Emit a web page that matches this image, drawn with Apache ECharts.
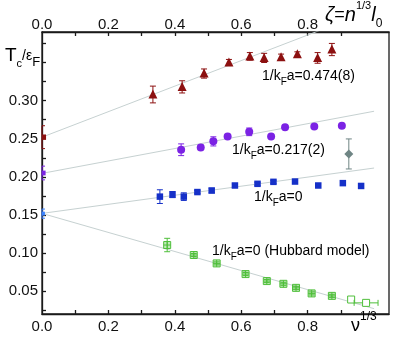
<!DOCTYPE html>
<html>
<head>
<meta charset="utf-8">
<script src="https://cdn.jsdelivr.net/npm/echarts@6/dist/echarts.min.js"></script>
<style>
  html, body { margin: 0; padding: 0; background: #fff; }
  #chart { width: 394px; height: 339px; }
</style>
</head>
<body>
<div id="chart"></div>
<script>
const FONT = "Liberation Sans, Arial, sans-serif";

// 1/kFa = 0.474(8)
const redX = [0, 0.334, 0.422, 0.488, 0.563, 0.626, 0.669, 0.720, 0.769, 0.830, 0.873];
const redY = [0.252, 0.308, 0.318, 0.3355, 0.350, 0.358, 0.356, 0.357, 0.361, 0.356, 0.367];
const redErr = [0.015, 0.011, 0.008, 0.006, 0.004, 0.005, 0.006, 0.004, 0.003, 0.007, 0.008];

// 1/kFa = 0.217(2)
const purpleX = [0, 0.419, 0.478, 0.516, 0.559, 0.624, 0.690, 0.732, 0.820, 0.903];
const purpleY = [0.205, 0.2355, 0.2386, 0.2465, 0.253, 0.259, 0.253, 0.265, 0.266, 0.267];
const purpleErr = [0.009, 0.0077, 0.003, 0.006, 0.002, 0.005, 0.002, 0.002, 0.002, 0.002];

// grey diamond
const greyX = [0.924];
const greyY = [0.230];
const greyErr = [0.0197];

// 1/kFa = 0
const blue0X = [0];
const blue0Y = [0.1517];
const blue0Err = [0.006];
const blueX = [0.355, 0.393, 0.427, 0.468, 0.511, 0.581, 0.649, 0.697, 0.762, 0.832, 0.906, 0.961];
const blueY = [0.174, 0.1767, 0.174, 0.180, 0.182, 0.1886, 0.1908, 0.1934, 0.1938, 0.1886, 0.1917, 0.188];
const blueErr = [0.009, 0.004, 0.005, 0.002, 0.003, 0.002, 0.002, 0.002, 0.002, 0, 0, 0];

// 1/kFa = 0 (Hubbard model)
const greenX = [0.377, 0.457, 0.526, 0.613, 0.677, 0.727, 0.765, 0.812, 0.873];
const greenY = [0.1105, 0.0974, 0.0864, 0.0724, 0.0632, 0.0596, 0.0543, 0.047, 0.0438];
const greenErr = [0.0088, 0.002, 0.002, 0.002, 0.002, 0.002, 0.002, 0.002, 0.002];
const greenOpenX = [0.931, 0.976];
const greenOpenY = [0.039, 0.0346];
const greenOpenXErr = [0, 0.036];

// linear fits
const fitX = [0, 1.0];
const redFit = [0.252, 0.4195];
const purpleFit = [0.2045, 0.286];
const blueFit = [0.152, 0.2115];
const greenFit = [0.152, 0.027];

// ticks
const xLabels = [0, 0.2, 0.4, 0.6, 0.8];
const xTicks = [0.1, 0.2, 0.3, 0.4, 0.5, 0.6, 0.7, 0.8, 0.9];
const yLabels = [0.05, 0.10, 0.15, 0.20, 0.25, 0.30];
const yTicks = [0.025, 0.05, 0.075, 0.10, 0.125, 0.15, 0.175, 0.20, 0.225, 0.25, 0.275, 0.30, 0.325, 0.35, 0.375];

function marker(shape, c, s, color, onAxis) {
  const [cx, cy] = c;
  const h = s / 2;
  // points sitting on the y axis are cut by the frame: keep only a sliver
  if (onAxis) {
    return { type: "rect", shape: { x: cx, y: cy - h * 0.6, width: h * 0.9, height: h * 1.2 }, style: { fill: color } };
  }
  if (shape === "triangle") {
    return { type: "polygon", shape: { points: [[cx, cy - h * 1.1], [cx - h, cy + h * 0.9], [cx + h, cy + h * 0.9]] }, style: { fill: color } };
  }
  if (shape === "circle") {
    return { type: "circle", shape: { cx, cy, r: h }, style: { fill: color } };
  }
  if (shape === "diamond") {
    return { type: "polygon", shape: { points: [[cx, cy - h], [cx + h, cy], [cx, cy + h], [cx - h, cy]] }, style: { fill: color } };
  }
  if (shape === "boxcross") {
    return {
      type: "group",
      children: [
        { type: "rect", shape: { x: cx - h, y: cy - h, width: s, height: s }, style: { fill: "rgba(80,190,60,0.35)", stroke: color, lineWidth: 1 } },
        { type: "line", shape: { x1: cx, y1: cy - h, x2: cx, y2: cy + h }, style: { stroke: color, lineWidth: 1 } },
        { type: "line", shape: { x1: cx - h, y1: cy, x2: cx + h, y2: cy }, style: { stroke: color, lineWidth: 1 } },
      ],
    };
  }
  if (shape === "open") {
    return { type: "rect", shape: { x: cx - h, y: cy - h, width: s, height: s }, style: { fill: "#fff", stroke: color, lineWidth: 1 } };
  }
  return { type: "rect", shape: { x: cx - h, y: cy - h, width: s, height: s }, style: { fill: color } };
}

// points with error bars
function pointSeries(xs, ys, errs, color, shape, size, xErrs) {
  return {
    type: "custom",
    z: 5,
    dimensions: ["x", "y", "err", "xerr"],
    encode: { x: 0, y: 1 },
    data: xs.map((x, i) => [x, ys[i], errs ? errs[i] : 0, xErrs ? xErrs[i] : 0]),
    renderItem: (params, api) => {
      const x = api.value(0), y = api.value(1), e = api.value(2), ex = api.value(3);
      const c = api.coord([x, y]);
      const onAxis = x <= 0;
      const capL = onAxis ? 0 : 3;
      const ls = { stroke: color, lineWidth: 1 };
      const kids = [];
      if (e > 0) {
        const t = api.coord([x, y + e]);
        const b = api.coord([x, y - e]);
        kids.push({ type: "line", shape: { x1: t[0], y1: t[1], x2: b[0], y2: b[1] }, style: ls });
        kids.push({ type: "line", shape: { x1: t[0] - capL, y1: t[1], x2: t[0] + 3, y2: t[1] }, style: ls });
        kids.push({ type: "line", shape: { x1: b[0] - capL, y1: b[1], x2: b[0] + 3, y2: b[1] }, style: ls });
      }
      if (ex > 0) {
        const l = api.coord([x - ex, y]);
        const r = api.coord([x + ex, y]);
        kids.push({ type: "line", shape: { x1: l[0], y1: l[1], x2: r[0], y2: r[1] }, style: ls });
        kids.push({ type: "line", shape: { x1: l[0], y1: l[1] - 3, x2: l[0], y2: l[1] + 3 }, style: ls });
        kids.push({ type: "line", shape: { x1: r[0], y1: r[1] - 3, x2: r[0], y2: r[1] + 3 }, style: ls });
      }
      kids.push(marker(shape, c, size, color, onAxis));
      return { type: "group", children: kids };
    },
  };
}

function fitSeries(ys) {
  return {
    type: "line",
    silent: true,
    symbol: "none",
    clip: true,
    z: 2,
    data: fitX.map((x, i) => [x, ys[i]]),
    lineStyle: { color: "#c6d1d1", width: 1 },
  };
}

const axisLineStyle = { color: "#1a1a1a", width: 1.3 };

function xAxisCfg(position, margin) {
  return {
    type: "value",
    position,
    min: 0,
    max: 1.045,
    axisLine: { show: true, lineStyle: axisLineStyle },
    axisTick: { show: true, inside: true, length: 4, customValues: xTicks, lineStyle: axisLineStyle },
    axisLabel: { customValues: xLabels, formatter: (v) => v.toFixed(1), fontSize: 15, fontFamily: FONT, color: "#111", margin },
    splitLine: { show: false },
  };
}

const annRich = {
  m: { fontSize: 14, fontFamily: FONT, color: "#111", lineHeight: 22 },
  s: { fontSize: 10, fontFamily: FONT, color: "#111", lineHeight: 11, verticalAlign: "bottom" },
};

function annotation(x, y, text) {
  return { type: "text", x, y, style: { text, rich: annRich, verticalAlign: "middle" }, z: 10 };
}

const chart = echarts.init(document.getElementById("chart"), null, { renderer: "canvas" });

chart.setOption({
  animation: false,
  backgroundColor: "#fff",
  grid: {
    left: 42, right: 5, top: 32, bottom: 25,
    containLabel: false,
    outerBoundsMode: "none",
    show: true,
    borderColor: "#1a1a1a",
    borderWidth: 1.3,
  },
  xAxis: [xAxisCfg("bottom", 5), xAxisCfg("top", 0)],
  yAxis: {
    type: "value",
    min: 0.02,
    max: 0.39,
    axisLine: { show: true, lineStyle: axisLineStyle },
    axisTick: { show: true, inside: true, length: 4, customValues: yTicks, lineStyle: axisLineStyle },
    axisLabel: { customValues: yLabels, formatter: (v) => v.toFixed(2), fontSize: 15, fontFamily: FONT, color: "#111", margin: 4 },
    splitLine: { show: false },
  },
  series: [
    fitSeries(redFit),
    fitSeries(purpleFit),
    fitSeries(blueFit),
    fitSeries(greenFit),
    pointSeries(redX, redY, redErr, "#8c1010", "triangle", 9),
    pointSeries(purpleX, purpleY, purpleErr, "#7b22e4", "circle", 8),
    pointSeries(greyX, greyY, greyErr, "#6f8584", "diamond", 9),
    pointSeries(blueX, blueY, blueErr, "#1530c8", "rect", 6.5),
    pointSeries(blue0X, blue0Y, blue0Err, "#3a82ff", "rect", 6.5),
    pointSeries(greenX, greenY, greenErr, "#4fbf3a", "boxcross", 7),
    pointSeries(greenOpenX, greenOpenY, null, "#4fbf3a", "open", 7, greenOpenXErr),
  ],
  graphic: [
    annotation(262, 76, "{m|1/k}{s|F}{m|a=0.474(8)}"),
    annotation(232, 150, "{m|1/k}{s|F}{m|a=0.217(2)}"),
    annotation(254, 197, "{m|1/k}{s|F}{m|a=0}"),
    annotation(212, 251, "{m|1/k}{s|F}{m|a=0 (Hubbard model)}"),
    {
      type: "text", x: 5, y: 56, z: 10,
      style: {
        text: "{T|T}{c|c}{m|/ε}{F|F}",
        verticalAlign: "middle",
        rich: {
          T: { fontSize: 19, fontFamily: FONT, color: "#111", lineHeight: 26 },
          c: { fontSize: 11, fontFamily: FONT, color: "#111", lineHeight: 10, verticalAlign: "bottom" },
          m: { fontSize: 14, fontFamily: FONT, color: "#111", lineHeight: 26 },
          F: { fontSize: 13, fontFamily: FONT, color: "#111", lineHeight: 13, verticalAlign: "bottom" },
        },
      },
    },
    {
      type: "text", x: 325, y: 15, z: 10,
      style: {
        text: "{i|ζ}{m|=}{i|n}{sup|1/3}{i|l}{sub|0}",
        verticalAlign: "middle",
        rich: {
          i: { fontSize: 20, fontStyle: "italic", fontFamily: FONT, color: "#111", lineHeight: 30 },
          m: { fontSize: 18, fontFamily: FONT, color: "#111", lineHeight: 30 },
          sup: { fontSize: 11, fontFamily: FONT, color: "#111", lineHeight: 11, verticalAlign: "top" },
          sub: { fontSize: 12, fontFamily: FONT, color: "#111", lineHeight: 13, verticalAlign: "bottom" },
        },
      },
    },
    {
      type: "text", x: 351, y: 326, z: 10,
      style: {
        text: "{v|ν}{sup|1/3}",
        verticalAlign: "middle",
        rich: {
          v: { fontSize: 18, fontFamily: FONT, color: "#111", lineHeight: 30 },
          sup: { fontSize: 12, fontFamily: FONT, color: "#111", lineHeight: 12, verticalAlign: "top" },
        },
      },
    },
  ],
});
</script>
</body>
</html>
